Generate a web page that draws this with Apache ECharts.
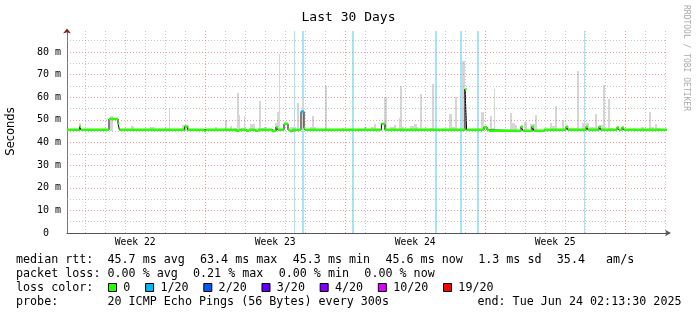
<!DOCTYPE html>
<html><head><meta charset="utf-8">
<script src="https://cdn.jsdelivr.net/npm/echarts@6/dist/echarts.min.js"></script>
<style>html,body{margin:0;padding:0;background:#fff}#c{width:697px;height:315px}</style>
</head><body><div id="c"></div>
<script>
// x values are days since the start of the 30-day window (Sun May 25 2025 02:13:30)
const windowDays = 30;
const endTimeOfDaySec = 2 * 3600 + 13 * 60 + 30;      // end: 02:13:30
const weekLabels = ['Week 22', 'Week 23', 'Week 24', 'Week 25'];
const weekStartDayIdx = [6, 13, 20, 27];                 // Sundays (index of midnight line)

// median RTT (ms): contiguous segments edges / values / loss level (index into lossLabels)
const medEdges = [0, 0.63, 0.70, 2.10, 2.55, 2.62, 5.88, 6.03, 6.85, 6.95, 8.45, 8.60, 8.95, 9.10, 9.40, 9.55,
  10.25, 10.45, 10.55, 10.85, 11.05, 11.15, 11.25, 11.70, 11.85, 11.90, 15.72, 15.90, 19.90, 19.98, 20.85, 21.00,
  21.10, 22.70, 22.80, 23.25, 23.35, 23.85, 24.95, 25.05, 25.95, 26.05, 26.60, 26.70, 27.50, 27.60, 27.75, 27.85, 30];
const medValues = [45.6, 47.0, 45.6, 50.4, 48.5, 45.6, 47.0, 45.6, 45.1, 45.6, 45.2, 45.6, 45.2, 45.6, 45.2, 45.6,
  45.1, 46.8, 45.6, 48.3, 45.6, 45.1, 45.6, 53.7, 46.5, 45.6, 48.3, 45.6, 63.5, 45.6, 46.8, 45.6,
  45.2, 47.0, 45.2, 47.0, 45.2, 45.6, 47.0, 45.6, 47.0, 45.6, 47.0, 45.6, 46.6, 45.6, 46.6, 45.6];
const medLoss = [0,0,0,0,0,0,0,0,0,0,0,0,0,0,0,0, 0,0,0,0,0,0,0,1,0,0,0,0,0,0,0,0, 0,0,0,0,0,0,0,0,0,0,0,0,0,0,0,0];

// smoke (ping spread) columns: from/to day, top (ms)
const smokeFrom = [0.60, 2.15, 3.20, 4.15, 4.60, 4.85, 5.10, 5.75, 7.40, 7.90, 8.15, 8.35, 8.50, 8.60, 8.70, 8.85,
  9.15, 9.60, 9.70, 9.85, 10.40, 10.50, 10.60, 11.15, 11.50, 11.75, 12.15, 12.25, 12.35, 12.90, 13.75, 14.85,
  15.20, 15.35, 15.85, 16.15, 16.35, 16.60, 16.65, 16.75, 17.15, 17.35, 17.50, 17.65, 18.15, 18.25, 19.10, 19.25,
  19.40, 19.73, 20.70, 21.15, 21.25, 21.35, 22.15, 22.25, 22.40, 22.85, 23.15, 23.40, 24.15, 24.25, 24.40, 24.75,
  25.00, 25.10, 25.50, 25.75, 25.95, 26.10, 26.40, 26.50, 26.70, 26.80, 27.05, 27.15, 27.75, 28.30, 28.70, 29.10,
  29.20, 29.40, 29.50];
const smokeTo = [0.70, 2.30, 3.35, 4.40, 4.65, 5.00, 5.15, 6.10, 7.50, 8.00, 8.25, 8.50, 8.60, 8.65, 8.85, 8.90,
  9.40, 9.70, 9.85, 10.00, 10.50, 10.60, 10.65, 11.45, 11.60, 11.85, 12.25, 12.35, 12.45, 13.00, 13.85, 15.00,
  15.35, 15.45, 16.00, 16.35, 16.45, 16.65, 16.75, 16.85, 17.35, 17.50, 17.55, 17.75, 18.25, 18.35, 19.25, 19.40,
  19.50, 19.90, 20.85, 21.25, 21.35, 21.40, 22.25, 22.40, 22.50, 23.00, 23.40, 23.50, 24.25, 24.40, 24.50, 24.85,
  25.10, 25.50, 25.60, 25.90, 26.10, 26.40, 26.50, 26.70, 26.80, 26.90, 27.15, 27.35, 27.90, 28.40, 28.85, 29.20,
  29.35, 29.50, 29.65];
const smokeTop = [48.8, 51.7, 47.3, 47.0, 46.5, 46.5, 55.4, 47.8, 47.0, 50.0, 47.3, 46.5, 62.1, 52.2, 46.5, 51.8,
  48.0, 58.4, 46.5, 46.8, 48.8, 53.7, 79.0, 47.0, 57.6, 59.1, 47.0, 51.8, 47.0, 65.0, 46.5, 47.0,
  47.0, 48.0, 60.3, 47.0, 47.8, 51.0, 64.9, 47.0, 47.3, 48.0, 47.0, 61.3, 46.5, 65.7, 52.8, 47.0,
  60.3, 76.0, 53.7, 51.8, 46.5, 63.8, 53.2, 48.8, 47.8, 49.1, 48.0, 52.2, 48.8, 47.3, 56.2, 49.8,
  47.5, 46.5, 71.6, 48.8, 48.8, 46.8, 52.5, 46.5, 47.8, 65.4, 59.1, 46.5, 46.5, 46.5, 46.8, 53.3,
  47.0, 48.0, 46.3];
const smokeBase = 45.0;

// periods with 1/20 packet loss (days)
const lossFrom = [11.34, 11.74, 14.25, 18.39, 19.64, 20.49, 25.85];
const lossTo   = [11.40, 11.85, 14.35, 18.49, 19.74, 20.60, 25.90];

// y axis ticks (ms)
const yMajor = [10, 20, 30, 40, 50, 60, 70, 80];
const yMinor = [5, 15, 25, 35, 45, 55, 65, 75, 85];
const yMax = 89.3;

// legend
const lossLabels = ['0', '1/20', '2/20', '3/20', '4/20', '10/20', '19/20'];
const lossColors = ['#26ff00', '#00b8ff', '#0059ff', '#5e00ff', '#7e00ff', '#dd00ff', '#ff0000'];
const rttTexts = ['median rtt:  45.7 ms avg', '63.4 ms max', '45.3 ms min', '45.6 ms now', '1.3 ms sd', '35.4   am/s'];
const lossTexts = ['packet loss: 0.00 % avg', '0.21 % max', '0.00 % min', '0.00 % now'];
const probeText = 'probe:       20 ICMP Echo Pings (56 Bytes) every 300s';
const endText = 'end: Tue Jun 24 02:13:30 2025';

// ---- layout (not data) ----
const MONO = '"DejaVu Sans Mono", "Liberation Mono", monospace';
const CW = 7.02, GAP = 15.5, LX = 16;

const firstMidnight = 1 - endTimeOfDaySec / 86400;
const dayLines = [];
for (let k = 0; k < windowDays; k++) dayLines.push(firstMidnight + k);
const weekCenters = [firstMidnight - 1 + 3.5];
weekStartDayIdx.slice(0, weekLabels.length - 1).forEach(i => weekCenters.push(dayLines[i] + 3.5));

const minorGrid = { color: 'rgba(150,150,150,0.55)', type: [1, 2], width: 1 };
const majorGrid = { color: 'rgba(230,90,90,0.6)', type: [1, 2], width: 1 };
const gridLines = [];
dayLines.forEach((d, k) => gridLines.push({ xAxis: d, lineStyle: weekStartDayIdx.includes(k) ? majorGrid : minorGrid }));
yMinor.forEach(v => gridLines.push({ yAxis: v, lineStyle: minorGrid }));
yMajor.forEach(v => gridLines.push({ yAxis: v, lineStyle: majorGrid }));

// median line data
const blackData = [];
const lossLineData = lossColors.map(() => []);
medValues.forEach((v, i) => {
  blackData.push([medEdges[i], v], [medEdges[i + 1], v]);
  lossLineData[medLoss[i]].push([medEdges[i], v], [medEdges[i + 1], v], [medEdges[i + 1], null]);
});

const smokeData = smokeFrom.map((f, i) => [f, smokeTo[i], smokeBase, smokeTop[i]]);
const lossData = lossFrom.map((f, i) => [f, lossTo[i]]);

// graphic texts
const graphic = [];
function txt(t, x, y, extra) {
  return Object.assign({ type: 'text', x: x, y: y, silent: true,
    style: Object.assign({ text: t, fontFamily: MONO, fontSize: 11.7, fill: '#000', verticalAlign: 'middle', align: 'left' }, extra || {}) });
}
function addRow(texts, y) {
  let x = LX;
  texts.forEach(t => { graphic.push(txt(t, x, y)); x += t.length * CW + GAP; });
}
addRow(rttTexts, 259.5);
addRow(lossTexts, 273.5);
addRow(['loss color:'], 287.5);
addRow([probeText], 301.5);
graphic.push(txt(endText, 681.5, 301.5, { align: 'right' }));
let bx = 108;
lossLabels.forEach((lab, i) => {
  graphic.push({ type: 'rect', x: bx + 0.5, y: 283.5, silent: true, shape: { x: 0, y: 0, width: 8, height: 8 },
    style: { fill: lossColors[i], stroke: '#000', lineWidth: 1 } });
  graphic.push(txt(lab, bx + 15.3, 287.5));
  bx = bx + 15.3 + lab.length * CW + 14.8;
});
graphic.push({ type: 'text', x: 686, y: 5, rotation: -Math.PI / 2, silent: true,
  style: { text: 'RRDTOOL / TOBI OETIKER', fontFamily: MONO, fontSize: 8, fill: '#aaaaaa', verticalAlign: 'middle', align: 'left' } });
graphic.push({ type: 'text', x: 11, y: 131.5, rotation: Math.PI / 2, silent: true,
  style: { text: 'Seconds', fontFamily: '"DejaVu Sans", sans-serif', fontSize: 11.5, fill: '#000', verticalAlign: 'middle', align: 'center' } });

function snap(v) { return Math.round(v); }

const chart = echarts.init(document.getElementById('c'), null, { renderer: 'canvas' });
chart.setOption({
  animation: false,
  backgroundColor: '#ffffff',
  title: { text: 'Last 30 Days', left: 'center', top: 6,
    textStyle: { fontFamily: MONO, fontSize: 13, fontWeight: 'normal', color: '#000' } },
  grid: { left: 67, top: 31, width: 600, height: 202, containLabel: false, outerBoundsMode: 'none' },
  xAxis: [{
    type: 'value', min: 0, max: windowDays,
    axisLine: { show: true, lineStyle: { color: '#555', width: 1 }, symbol: ['none', 'arrow'], symbolSize: [5, 6], symbolOffset: [0, 4] },
    axisTick: { show: false }, splitLine: { show: false },
    axisLabel: { customValues: weekCenters, margin: 4, fontFamily: MONO, fontSize: 9.7, color: '#000',
      formatter: v => { const i = weekCenters.findIndex(c => Math.abs(c - v) < 1e-6); return i >= 0 ? weekLabels[i] : ''; } }
  }],
  yAxis: [{
    type: 'value', min: 0, max: yMax, interval: 10,
    axisLine: { show: true, lineStyle: { color: '#777', width: 1 } },
    axisTick: { show: false }, splitLine: { show: false },
    axisLabel: { margin: 6, fontFamily: MONO, fontSize: 10, color: '#000', showMaxLabel: false,
      formatter: v => (v % 10 !== 0 ? '' : (v === 0 ? '0  ' : v + ' m')) }
  }, {
    type: 'value', min: 0, max: yMax, position: 'left', offset: 0,
    axisLine: { show: true, lineStyle: { color: '#8b1a1a', width: 0 }, symbol: ['none', 'arrow'], symbolSize: [6, 5], symbolOffset: [0, 2.5] },
    axisTick: { show: false }, splitLine: { show: false }, axisLabel: { show: false }
  }],
  graphic: graphic,
  series: [
    { type: 'line', data: [], z: 1, silent: true,
      markLine: { silent: true, symbol: ['none', 'none'], label: { show: false }, animation: false, data: gridLines } },
    { type: 'custom', z: 2, silent: true, data: lossData,
      renderItem: (params, api) => {
        const cs = params.coordSys;
        const a = api.coord([api.value(0), 0]);
        const b = api.coord([api.value(1), 0]);
        const x0 = snap(a[0]), x1 = Math.max(snap(b[0]), x0 + 1);
        return { type: 'rect', shape: { x: x0, y: cs.y, width: x1 - x0, height: cs.height },
          style: { fill: '#a6e4f7' } };
      } },
    { type: 'custom', z: 3, silent: true, data: smokeData,
      renderItem: (params, api) => {
        const a = api.coord([api.value(0), api.value(3)]);
        const b = api.coord([api.value(1), api.value(2)]);
        const x0 = snap(a[0]), x1 = Math.max(snap(b[0]), x0 + 1);
        return { type: 'rect', shape: { x: x0, y: snap(a[1]), width: x1 - x0, height: b[1] - snap(a[1]) },
          style: { fill: '#d6d6d6' } };
      } },
    { type: 'line', z: 4, silent: true, data: blackData, showSymbol: false, symbol: 'none',
      lineStyle: { color: '#000', width: 1 } },
    ...lossLineData.map((d, i) => ({ type: 'line', z: 5, silent: true, data: d, showSymbol: false, symbol: 'none',
      connectNulls: false, lineStyle: { color: lossColors[i], width: 2.5, cap: 'butt' } }))
  ]
});
</script></body></html>
